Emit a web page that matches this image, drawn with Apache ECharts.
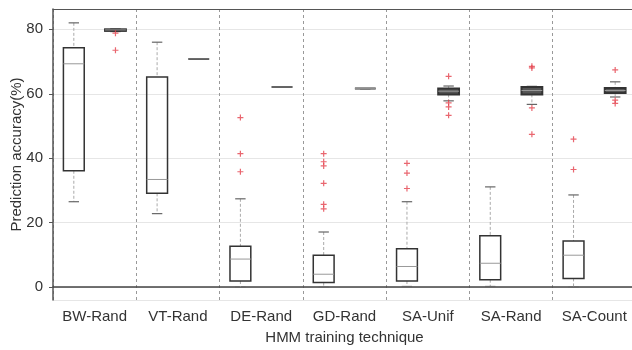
<!DOCTYPE html>
<html>
<head>
<meta charset="utf-8">
<script src="https://cdn.jsdelivr.net/npm/echarts@6/dist/echarts.min.js"></script>
<style>
html, body { margin: 0; padding: 0; background: #fff; }
#main { width: 632px; height: 350px; }
</style>
</head>
<body>
<div id="main"></div>
<script>
// categories
var categories = ['BW-Rand', 'VT-Rand', 'DE-Rand', 'GD-Rand', 'SA-Unif', 'SA-Rand', 'SA-Count'];

// boxes: [min, q1, median, q3, max]
var leftBoxes = [
	[26.5, 36.1, 69.3, 74.3, 82.0],
	[22.8, 29.1, 33.4, 65.2, 76.0],
	[0.0, 1.9, 8.7, 12.7, 27.4],
	[0.0, 1.4, 4.0, 9.9, 17.1],
	[0.2, 1.9, 6.4, 11.9, 26.5],
	[0.2, 2.3, 7.4, 15.9, 31.1],
	[0.0, 2.7, 9.9, 14.3, 28.6]
];
var rightBoxes = [
	[79.3, 79.5, 79.8, 80.0, 80.1],
	[70.8, 70.8, 70.8, 70.8, 70.8],
	[62.1, 62.1, 62.1, 62.1, 62.1],
	[61.6, 61.6, 61.6, 61.6, 61.6],
	[57.8, 59.8, 60.8, 61.6, 62.4],
	[56.7, 59.8, 61.0, 62.1, 62.3],
	[59.0, 60.2, 61.0, 61.8, 63.7]
];

// outliers
var leftOutliers = [
	[],
	[],
	[52.6, 41.4, 35.8],
	[41.4, 38.9, 37.6, 32.2, 25.7, 24.3],
	[38.4, 35.4, 30.6],
	[],
	[45.9, 36.5]
];
var rightOutliers = [
	[78.8, 73.5],
	[],
	[],
	[],
	[65.4, 57.2, 55.9, 53.3],
	[68.5, 68.0, 55.6, 47.4],
	[67.4, 58.0, 57.0]
];

var FONT = 'Liberation Sans';

//每个类别两个位置
var slots = [];
var boxData = [];
var outlierData = [];
for (var i = 0; i < categories.length; i++) {
	slots.push(categories[i] + ' a', categories[i] + ' b');
	boxData.push([2 * i].concat(leftBoxes[i]));
	boxData.push([2 * i + 1].concat(rightBoxes[i]));
	for (var j = 0; j < leftOutliers[i].length; j++) {
		outlierData.push([2 * i, leftOutliers[i][j]]);
	}
	for (var k = 0; k < rightOutliers[i].length; k++) {
		outlierData.push([2 * i + 1, rightOutliers[i][k]]);
	}
}

function renderBox(params, api) {
	var x = api.value(0);
	var pLo = api.coord([x, api.value(1)]);
	var pQ1 = api.coord([x, api.value(2)]);
	var pMd = api.coord([x, api.value(3)]);
	var pQ3 = api.coord([x, api.value(4)]);
	var pHi = api.coord([x, api.value(5)]);
	var bw = api.size([1, 0])[0] * 0.5;
	var cx = pLo[0];
	var half = bw / 2;
	var cap = bw / 4;
	var whisk = { stroke: '#aaa', lineWidth: 1, lineDash: [3, 2] };
	var capStyle = { stroke: '#666', lineWidth: 1.2 };
	// 很扁的箱子画得更粗
	var thin = (pQ1[1] - pQ3[1]) < 10;
	return {
		type: 'group',
		children: [
			{ type: 'line', shape: { x1: cx, y1: pHi[1], x2: cx, y2: pQ3[1] }, style: whisk },
			{ type: 'line', shape: { x1: cx, y1: pQ1[1], x2: cx, y2: pLo[1] }, style: whisk },
			{ type: 'line', shape: { x1: cx - cap, y1: pHi[1], x2: cx + cap, y2: pHi[1] }, style: capStyle },
			{ type: 'line', shape: { x1: cx - cap, y1: pLo[1], x2: cx + cap, y2: pLo[1] }, style: capStyle },
			{ type: 'rect', shape: { x: cx - half, y: pQ3[1], width: bw, height: pQ1[1] - pQ3[1] },
				style: { fill: thin ? '#555' : 'transparent', stroke: '#333', lineWidth: thin ? 2 : 1.5 } },
			{ type: 'line', shape: { x1: cx - half, y1: pMd[1], x2: cx + half, y2: pMd[1] },
				style: { stroke: '#999', lineWidth: 1 } }
		]
	};
}

var chart = echarts.init(document.getElementById('main'));
var option = {
	animation: false,
	grid: { left: 53, right: -4, top: 9, bottom: 50, outerBoundsMode: 'none' },
	xAxis: [
		{ type: 'category', data: slots, position: 'bottom', show: false },
		{
			type: 'category', data: categories, position: 'bottom',
			axisLine: { lineStyle: { color: '#444', width: 1.5 } },
			axisTick: { inside: true, alignWithLabel: true, interval: 0, length: 5, lineStyle: { color: '#444' } },
			axisLabel: { interval: 0, color: '#333', fontSize: 15, fontFamily: FONT, margin: 9 },
			splitLine: { show: true, interval: 0, lineStyle: { color: '#999', type: [3, 3] } },
			name: 'HMM training technique', nameLocation: 'middle', nameGap: 30,
			nameTextStyle: { color: '#333', fontSize: 15, fontFamily: FONT }
		},
		{
			type: 'category', data: categories, position: 'top',
			axisLine: { lineStyle: { color: '#555', width: 1.2 } },
			axisTick: { inside: true, alignWithLabel: true, interval: 0, length: 5, lineStyle: { color: '#444' } },
			axisLabel: { show: false },
			splitLine: { show: false }
		}
	],
	yAxis: [
		{
			type: 'value', min: -4, max: 86.3, splitNumber: 5, position: 'left',
			axisLine: { show: true, lineStyle: { color: '#555', width: 1.5 } },
			axisTick: { show: true, length: 4, lineStyle: { color: '#555' } },
			axisLabel: { color: '#333', fontSize: 15, fontFamily: FONT, margin: 10, showMinLabel: false, showMaxLabel: false },
			splitLine: { show: true, lineStyle: { color: '#e6e6e6' } },
			name: 'Prediction accuracy(%)', nameLocation: 'middle', nameGap: 29, nameMoveOverlap: false,
			nameTextStyle: { color: '#333', fontSize: 15, fontFamily: FONT }
		},
		{
			type: 'value', min: -4, max: 86.3, splitNumber: 5, position: 'right',
			axisLine: { show: true, lineStyle: { color: '#555', width: 1.2 } },
			axisTick: { show: true, inside: true, length: 4, lineStyle: { color: '#555' } },
			axisLabel: { show: false },
			splitLine: { show: false }
		}
	],
	series: [
		{
			type: 'custom',
			xAxisIndex: 0,
			yAxisIndex: 0,
			renderItem: renderBox,
			encode: { x: 0, y: [1, 2, 3, 4, 5] },
			data: boxData,
			z: 3
		},
		{
			type: 'scatter',
			xAxisIndex: 0,
			yAxisIndex: 0,
			symbol: 'path://M-0.6,-3H0.6V-0.6H3V0.6H0.6V3H-0.6V0.6H-3V-0.6H-0.6Z',
			symbolSize: 6,
			itemStyle: { color: '#e3404b' },
			data: outlierData,
			z: 4
		}
	]
};
chart.setOption(option);
</script>
</body>
</html>
